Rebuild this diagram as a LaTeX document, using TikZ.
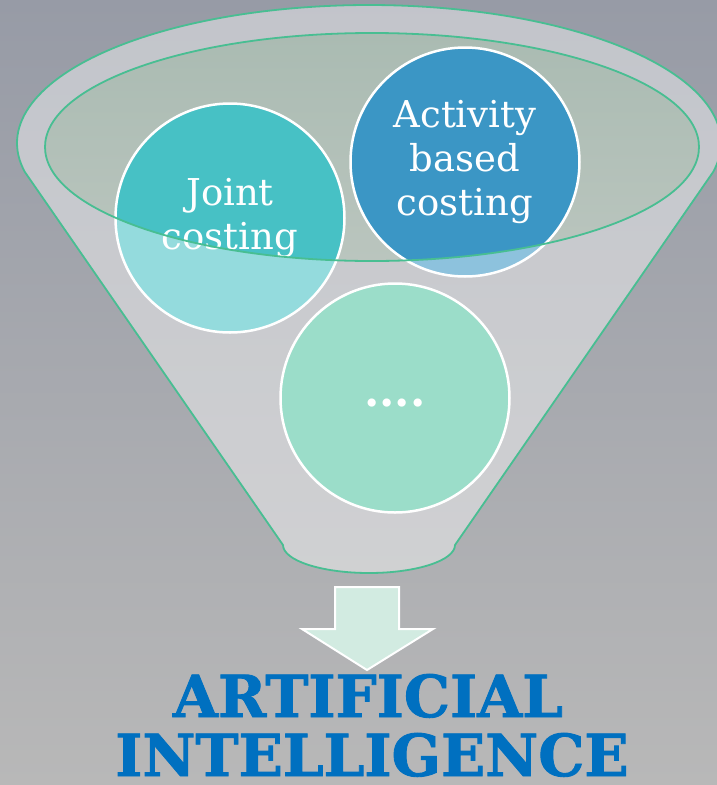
\documentclass[tikz,border=0pt]{standalone}
\usepackage{fontspec}
\setmainfont{DejaVu Serif}
\newfontfamily\aifont[FakeBold=1.5]{DejaVu Serif Bold}

\definecolor{rimgreen}{RGB}{72,190,146}
\definecolor{tealball}{RGB}{71,193,197}
\definecolor{blueball}{RGB}{59,150,197}
\definecolor{mintball}{RGB}{83,197,162}
\definecolor{aiblue}{RGB}{0,112,192}
\definecolor{arrowfill}{RGB}{210,235,225}
\definecolor{bgtop}{RGB}{151,155,166}
\definecolor{bgbot}{RGB}{184,184,184}
\definecolor{mouthtop}{RGB}{170,187,178}
\definecolor{mouthbot}{RGB}{186,197,190}

\begin{document}
\begin{tikzpicture}[x=1pt, y=1pt,
  ball/.style={circle, draw=white, line width=2.5pt, minimum size=229pt, inner sep=0pt,
    text=white, align=center, font=\fontsize{37}{44}\selectfont},
  rim/.style={draw=rimgreen, line width=1.8pt},
  title/.style={anchor=base, inner sep=0pt, text=aiblue, font=\aifont\fontsize{58}{67}\selectfont}]
  \useasboundingbox (0,0) rectangle (717,-785);
  \shade[top color=bgtop, bottom color=bgbot] (0,0) rectangle (717,-785);

  % 漏斗：外沿椭圆中心 C，半轴 352/138；口部椭圆中心 M，半轴 327/114
  \coordinate (C) at (369,-143);
  \coordinate (M) at (372,-147);
  \path (C) ++(192.1:352 and 138) coordinate (TL);
  \path (C) ++(-12.1:352 and 138) coordinate (TR);
  \coordinate (BL) at (283,-545);
  \coordinate (BR) at (455,-545);

  \shade[top color=mouthtop, bottom color=mouthbot] (M) ellipse[x radius=327pt, y radius=114pt];

  \node[ball, fill=tealball] (joint) at (230,-218) {Joint\\costing};
  \node[ball, fill=blueball] (abc) at (465,-162) {Activity\\based\\costing};
  \node[ball, fill=mintball, font=\bfseries\fontsize{44}{44}\selectfont,
    text height=16pt, text depth=0pt] (more) at (395,-398) {....};

  % 漏斗前壁半透明，口部挖空
  \fill[white, opacity=0.42, even odd rule]
    (TL) -- (BL) arc[start angle=180, end angle=360, x radius=86pt, y radius=28pt]
    -- (TR) arc[start angle=-12.1, end angle=192.1, x radius=352pt, y radius=138pt] -- cycle
    (M) ellipse[x radius=327pt, y radius=114pt];
  \draw[rim] (TL) -- (BL) arc[start angle=180, end angle=360, x radius=86pt, y radius=28pt]
    -- (TR) arc[start angle=-12.1, end angle=192.1, x radius=352pt, y radius=138pt] -- cycle;
  \draw[rim] (M) ellipse[x radius=327pt, y radius=114pt];

  \draw[white, line width=2pt, fill=arrowfill]
    (335,-587) -- (399,-587) -- (399,-629) -- (433,-629) -- (367,-670)
    -- (302,-629) -- (335,-629) -- cycle;

  \node[title] (ai1) at (368,-717) {ARTIFICIAL};
  \node[title] (ai2) at (372,-776) {INTELLIGENCE};
\end{tikzpicture}
\end{document}
